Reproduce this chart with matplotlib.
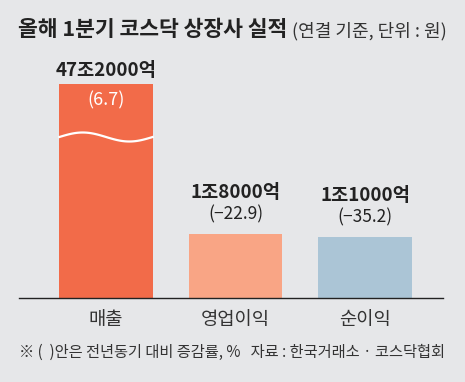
import matplotlib
matplotlib.use('Agg')
import matplotlib.pyplot as plt
import numpy as np

plt.rcParams['font.family'] = ['Noto Sans CJK KR', 'DejaVu Sans']

# data
categories = ['매출', '영업이익', '순이익']
amount_labels = ['47조2000억', '1조8000억', '1조1000억']
change_labels = ['(6.7)', '(−22.9)', '(−35.2)']
# bar heights as drawn (broken axis, not to scale)
bar_heights = [214, 64, 61]
colors = ['#f26b49', '#f9a585', '#abc5d6']

bg = '#e6e7e9'
fig = plt.figure(figsize=(4.65, 3.82), dpi=100, facecolor=bg)
ax = fig.add_axes([19 / 465, 1 - 298 / 382, 424 / 465, 248 / 382])
ax.set_facecolor(bg)

x = np.arange(len(categories))
bars = ax.bar(x, bar_heights, width=0.72, color=colors, zorder=2)
ax.set_xlim(-0.672, 2.602)
ax.set_ylim(0, 248)

for s in ['top', 'right', 'left']:
    ax.spines[s].set_visible(False)
ax.spines['bottom'].set_color('#222222')
ax.spines['bottom'].set_linewidth(1.0)
ax.set_yticks([])
ax.set_xticks(x)
ax.set_xticklabels(categories, fontsize=13.5, color='#333333')
ax.tick_params(axis='x', length=0, pad=8)

# break mark on the first bar
b0 = bars[0]
wx = np.linspace(b0.get_x(), b0.get_x() + b0.get_width(), 100)
wy = 161 + 4.5 * np.sin(2 * np.pi * (wx - b0.get_x()) / b0.get_width())
ax.plot(wx, wy, color='white', lw=1.6, zorder=3)

# labels
for i, b in enumerate(bars):
    cx = b.get_x() + b.get_width() / 2
    top = b.get_height()
    if i == 0:
        ax.annotate(amount_labels[i], (cx, top), xytext=(0, 10), textcoords='offset points',
                    ha='center', va='center', fontsize=13.5, fontweight='bold', color='#222222')
        ax.annotate(change_labels[i], (cx, top), xytext=(0, -12), textcoords='offset points',
                    ha='center', va='center', fontsize=13, color='white')
    else:
        ax.annotate(amount_labels[i], (cx, top), xytext=(0, 30), textcoords='offset points',
                    ha='center', va='center', fontsize=13.5, fontweight='bold', color='#222222')
        ax.annotate(change_labels[i], (cx, top), xytext=(0, 14), textcoords='offset points',
                    ha='center', va='center', fontsize=12.5, color='#222222')

# title
fig.text(18 / 465, 1 - 30 / 382, '올해 1분기 코스닥 상장사 실적', fontsize=15.5,
         fontweight='black', color='#222222', ha='left', va='center')
fig.text(292 / 465, 1 - 31 / 382, '(연결 기준, 단위 : 원)', fontsize=13,
         color='#333333', ha='left', va='center')

# footnote
fig.text(19 / 465, 1 - 352 / 382, '※ (  )안은 전년동기 대비 증감률, %   자료 : 한국거래소 · 코스닥협회',
         fontsize=11, color='#333333', ha='left', va='center')

fig.savefig('out.png', dpi=100, facecolor=bg)
